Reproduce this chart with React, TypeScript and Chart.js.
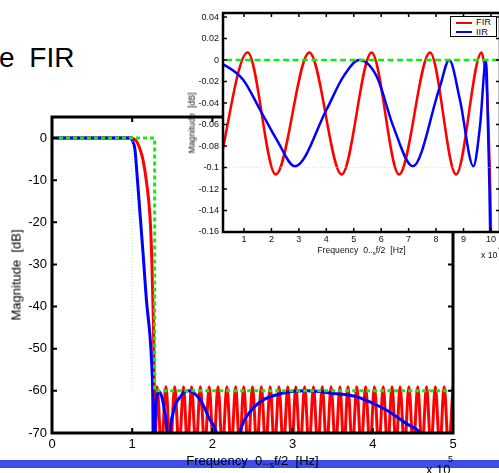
import React, { useEffect, useRef } from "react";
import { Chart, registerables } from "chart.js";

Chart.register(...registerables);

const FONT = "'Liberation Sans', Arial, Helvetica, sans-serif";

// ================= MAIN CHART (x: frequency ×10^5 Hz, y: magnitude dB)
const mainXTickValues = [0, 1, 2, 3, 4, 5];
const mainXTickLabels = ["0", "1", "2", "3", "4", "5"];
const mainYTickValues = [0, -10, -20, -30, -40, -50, -60, -70];
const mainYTickLabels = ["0", "-10", "-20", "-30", "-40", "-50", "-60", "-70"];

// FIR passband + transition band
const firTransX = [0, 1.0, 1.01, 1.056, 1.1, 1.135, 1.18, 1.222, 1.243, 1.263, 1.272, 1.284];
const firTransDb = [0, 0, -0.1, -0.8, -2.8, -5.2, -10.7, -18.7, -28, -42.4, -53.5, -74];
// FIR stopband equiripple: lobe peaks and nulls
const firPeakX = [1.31, 1.42, 1.53, 1.64, 1.74, 1.85, 1.96, 2.07, 2.18, 2.29, 2.39, 2.5, 2.61, 2.72, 2.83, 2.94, 3.04, 3.15, 3.26, 3.37, 3.48, 3.59, 3.69, 3.8, 3.91, 4.02, 4.13, 4.24, 4.34, 4.45, 4.56, 4.67, 4.78, 4.89, 5.0];
const firPeakDb = [-59, -59, -59, -59, -59, -59, -59, -59, -59, -59, -59, -59, -59, -59, -59, -59, -59, -59, -59, -59, -59, -59, -59, -59, -59, -59, -59, -59, -59, -59, -59, -59, -59, -59, -59];
const firNullX = [1.365, 1.475, 1.585, 1.69, 1.795, 1.905, 2.015, 2.125, 2.235, 2.34, 2.445, 2.555, 2.665, 2.775, 2.885, 2.99, 3.095, 3.205, 3.315, 3.425, 3.535, 3.64, 3.745, 3.855, 3.965, 4.075, 4.185, 4.29, 4.395, 4.505, 4.615, 4.725, 4.835, 4.945];
const firNullDb = [-74, -74, -74, -74, -74, -74, -74, -74, -74, -74, -74, -74, -74, -74, -74, -74, -74, -74, -74, -74, -74, -74, -74, -74, -74, -74, -74, -74, -74, -74, -74, -74, -74, -74];

// IIR (elliptic) full response
const iirMainX = [0, 0.99, 1.0, 1.035, 1.056, 1.097, 1.138, 1.18, 1.222, 1.243, 1.256, 1.268, 1.29, 1.31, 1.338, 1.37, 1.4, 1.43, 1.455, 1.47, 1.51, 1.6, 1.7, 1.85, 1.97, 2.05, 2.2, 2.344, 2.469, 2.594, 2.718, 2.968, 3.176, 3.51, 3.8, 4.006, 4.21, 4.42, 4.59, 4.8, 5.0];
const iirMainDb = [0, 0, -0.5, -2.8, -7.6, -17.8, -28, -39, -47, -53.5, -61, -85, -65, -61.2, -60.2, -61.5, -64.5, -69, -85, -72, -65.3, -61.4, -60, -62.2, -66.9, -70, -90, -70, -65, -62.6, -61.4, -60.2, -60, -60.6, -61.4, -63, -65, -67.8, -70, -78, -95];

// Specification template
const specX = [0, 1.28, 1.28, 5];
const specDb = [0, 0, -60, -60];
const passEdgeX = [1, 1];
const passEdgeDb = [0, -60];

// ================= INSET (x: frequency ×10^4 Hz, y: magnitude dB)
const insetXTickValues = [1, 2, 3, 4, 5, 6, 7, 8, 9, 10];
const insetXTickLabels = ["1", "2", "3", "4", "5", "6", "7", "8", "9", "10"];
const insetYTickValues = [0.04, 0.02, 0, -0.02, -0.04, -0.06, -0.08, -0.1, -0.12, -0.14, -0.16];
const insetYTickLabels = ["0.04", "0.02", "0", "-0.02", "-0.04", "-0.06", "-0.08", "-0.1", "-0.12", "-0.14", "-0.16"];

const firInsetX = [0.03, 1.135, 2.155, 3.38, 4.56, 5.65, 6.65, 7.78, 8.73, 9.66, 9.75, 9.84, 9.93, 10.0, 10.08];
const firInsetDb = [-0.107, 0.0071, -0.1065, 0.0071, -0.1065, 0.0071, -0.1065, 0.0071, -0.1065, 0.0071, -0.003, -0.022, -0.08, -0.16, -0.4];

const iirInsetX = [0, 0.975, 1.58, 2.19, 2.86, 4.01, 4.62, 5.2, 5.84, 6.44, 7.15, 8.14, 8.48, 8.87, 9.36, 9.6, 9.82, 9.9, 9.97, 10.05];
const iirInsetDb = [0, -0.0185, -0.046, -0.074, -0.0988, -0.046, -0.0154, 0, -0.0154, -0.0617, -0.0988, -0.0247, 0, -0.037, -0.0988, -0.0617, 0, -0.07, -0.16, -0.4];

const insetSpecX = [0, 12.8];
const insetSpecDb = [0, 0];
const insetRippleX = [0, 10];
const insetRippleDb = [-0.1, -0.1];

const RED = "#ff0000";
const BLUE = "#0000ff";
const GREEN = "#10ee10";
const PALE_GREEN = "#a8eea8";

const pts = (xs: number[], ys: number[]) => xs.map((x, i) => ({ x, y: ys[i] }));

function buildFirMain() {
  const out = pts(firTransX, firTransDb);
  for (let i = 0; i < firPeakX.length; i++) {
    out.push({ x: firPeakX[i], y: firPeakDb[i] });
    if (i < firNullX.length) out.push({ x: firNullX[i], y: firNullDb[i] });
  }
  return out;
}

const makeFrame = (lw: number, tickLen: number, tickW: number, fillWhite: boolean) => ({
  id: "frame",
  beforeDraw(chart: any) {
    if (!fillWhite) return;
    const { ctx, chartArea: a } = chart;
    ctx.save();
    ctx.fillStyle = "#fff";
    ctx.fillRect(a.left, a.top, a.right - a.left, a.bottom - a.top);
    ctx.restore();
  },
  afterDatasetsDraw(chart: any) {
    const { ctx, chartArea: a, scales } = chart;
    ctx.save();
    ctx.strokeStyle = "#000";
    ctx.lineWidth = tickW;
    ctx.beginPath();
    scales.x.ticks.forEach((t: any) => {
      const x = scales.x.getPixelForValue(t.value);
      ctx.moveTo(x, a.bottom);
      ctx.lineTo(x, a.bottom - tickLen);
      ctx.moveTo(x, a.top);
      ctx.lineTo(x, a.top + tickLen);
    });
    scales.y.ticks.forEach((t: any) => {
      const y = scales.y.getPixelForValue(t.value);
      ctx.moveTo(a.left, y);
      ctx.lineTo(a.left + tickLen, y);
      ctx.moveTo(a.right, y);
      ctx.lineTo(a.right - tickLen, y);
    });
    ctx.stroke();
    ctx.lineWidth = lw;
    ctx.strokeRect(a.left, a.top, a.right - a.left, a.bottom - a.top);
    ctx.restore();
  },
});

const lineDs = (label: string, data: any[], color: string, width: number, order: number, extra: any = {}) => ({
  label,
  data,
  borderColor: color,
  backgroundColor: color,
  borderWidth: width,
  pointRadius: 0,
  fill: false,
  order,
  borderJoinStyle: "round",
  ...extra,
});

export default function App() {
  const mainRef = useRef<HTMLCanvasElement | null>(null);
  const insetRef = useRef<HTMLCanvasElement | null>(null);

  useEffect(() => {
    const main = new Chart(mainRef.current as HTMLCanvasElement, {
      type: "line",
      data: {
        datasets: [
          lineDs("spec", pts(specX, specDb), GREEN, 3, 0, { borderDash: [4, 3] }),
          lineDs("edge", pts(passEdgeX, passEdgeDb), PALE_GREEN, 1, 1, { borderDash: [1, 2] }),
          lineDs("IIR", pts(iirMainX, iirMainDb), BLUE, 3, 2, { cubicInterpolationMode: "monotone" }),
          lineDs("FIR", buildFirMain(), RED, 3, 3, { cubicInterpolationMode: "monotone" }),
        ] as any,
      },
      options: {
        animation: false,
        responsive: false,
        events: [],
        layout: { padding: { top: 117, right: 46, left: 0, bottom: 0 } },
        plugins: { legend: { display: false }, tooltip: { enabled: false } },
        scales: {
          x: {
            type: "linear",
            min: 0,
            max: 5,
            afterFit: (s: any) => { s.height = 40; },
            afterBuildTicks: (s: any) => { s.ticks = mainXTickValues.map((v) => ({ value: v })); },
            ticks: {
              callback: (_v: any, i: number) => mainXTickLabels[i],
              font: { family: FONT, size: 13 },
              color: "#000",
              padding: 4,
              autoSkip: false,
              maxRotation: 0,
            },
            grid: { display: false, drawTicks: false },
            border: { display: false },
          },
          y: {
            type: "linear",
            min: -70,
            max: 5,
            afterFit: (s: any) => { s.width = 52; },
            afterBuildTicks: (s: any) => { s.ticks = mainYTickValues.map((v) => ({ value: v })); },
            ticks: {
              callback: (_v: any, i: number) => mainYTickLabels[i],
              font: { family: FONT, size: 13 },
              color: "#000",
              padding: 5,
              autoSkip: false,
            },
            grid: { display: false, drawTicks: false },
            border: { display: false },
          },
        },
      } as any,
      plugins: [makeFrame(3, 5, 2, false)],
    });

    const inset = new Chart(insetRef.current as HTMLCanvasElement, {
      type: "line",
      data: {
        datasets: [
          lineDs("spec", pts(insetSpecX, insetSpecDb), GREEN, 2.5, 0, { borderDash: [6, 3.5] }),
          lineDs("ripple", pts(insetRippleX, insetRippleDb), PALE_GREEN, 1, 1, { borderDash: [1, 3] }),
          lineDs("IIR", pts(iirInsetX, iirInsetDb), BLUE, 2.5, 2, { cubicInterpolationMode: "monotone" }),
          lineDs("FIR", pts(firInsetX, firInsetDb), RED, 2.5, 3, { cubicInterpolationMode: "monotone" }),
        ] as any,
      },
      options: {
        animation: false,
        responsive: false,
        events: [],
        layout: { padding: { top: 13, right: 10, left: 0, bottom: 0 } },
        plugins: { legend: { display: false }, tooltip: { enabled: false } },
        scales: {
          x: {
            type: "linear",
            min: 0.235,
            max: 10.33,
            afterFit: (s: any) => { s.height = 38; },
            afterBuildTicks: (s: any) => { s.ticks = insetXTickValues.map((v) => ({ value: v })); },
            ticks: {
              callback: (_v: any, i: number) => insetXTickLabels[i],
              font: { family: FONT, size: 9 },
              color: "#111",
              padding: 2,
              autoSkip: false,
              maxRotation: 0,
            },
            grid: { display: false, drawTicks: false },
            border: { display: false },
          },
          y: {
            type: "linear",
            min: -0.16,
            max: 0.0438,
            afterFit: (s: any) => { s.width = 53; },
            afterBuildTicks: (s: any) => { s.ticks = insetYTickValues.map((v) => ({ value: v })); },
            ticks: {
              callback: (_v: any, i: number) => insetYTickLabels[i],
              font: { family: FONT, size: 9 },
              color: "#111",
              padding: 4,
              autoSkip: false,
            },
            grid: { display: false, drawTicks: false },
            border: { display: false },
          },
        },
      } as any,
      plugins: [makeFrame(2.5, 4, 1.5, true)],
    });

    return () => {
      main.destroy();
      inset.destroy();
    };
  }, []);

  const t: React.CSSProperties = {
    position: "absolute",
    whiteSpace: "nowrap",
    fontFamily: FONT,
    color: "#000",
  };

  return (
    <div
      style={{
        position: "fixed",
        left: 0,
        top: 0,
        width: 499,
        height: 473,
        overflow: "hidden",
        background: "#fff",
        fontFamily: FONT,
      }}
    >
      {/* slide title fragment */}
      <div style={{ ...t, left: -1, top: 44.4, fontSize: 28, lineHeight: "28px", wordSpacing: 7 }}>e FIR</div>

      {/* bottom slide bar */}
      <div style={{ position: "absolute", left: 0, top: 460, width: 499, height: 8, background: "#3d4ee8" }} />

      <canvas ref={mainRef} width={499} height={473} style={{ position: "absolute", left: 0, top: 0, width: 499, height: 473, display: "block" }} />
      <canvas ref={insetRef} width={340} height={270} style={{ position: "absolute", left: 170, top: 0, width: 340, height: 270, display: "block" }} />

      {/* main axis titles */}
      <div style={{ ...t, left: 15.5, top: 275, fontSize: 13, lineHeight: "13px", transform: "translate(-50%, -50%) rotate(-90deg)" }}>
        Magnitude{"\u00a0\u00a0"}[dB]
      </div>
      <div style={{ ...t, left: 52, width: 401, top: 453.5, fontSize: 13, lineHeight: "13px", height: 13, textAlign: "center" }}>
        Frequency{"\u00a0\u00a0"}0..<sub style={{ fontSize: 9, verticalAlign: "-3px", lineHeight: 0 }}>s</sub>f/2{"\u00a0\u00a0"}[Hz]
      </div>
      <div style={{ ...t, left: 426, top: 463.3, fontSize: 13, lineHeight: "13px" }}>x 10</div>
      <div style={{ ...t, left: 448, top: 455, fontSize: 9, lineHeight: "9px" }}>5</div>

      {/* inset axis titles */}
      <div style={{ ...t, left: 191.5, top: 122.5, fontSize: 8.7, lineHeight: "8.7px", color: "#111", transform: "translate(-50%, -50%) rotate(-90deg)" }}>
        Magnitude{"\u00a0\u00a0"}[dB]
      </div>
      <div style={{ ...t, left: 223, width: 277, top: 245.5, fontSize: 8.7, lineHeight: "8.7px", height: 9, textAlign: "center", color: "#111" }}>
        Frequency{"\u00a0\u00a0"}0..<sub style={{ fontSize: 6, verticalAlign: "-2px", lineHeight: 0 }}>s</sub>f/2{"\u00a0\u00a0"}[Hz]
      </div>
      <div style={{ ...t, left: 481, top: 250.5, fontSize: 8.7, lineHeight: "8.7px", color: "#111" }}>x 10</div>
      <div style={{ ...t, left: 498, top: 245, fontSize: 6, lineHeight: "6px", color: "#111" }}>4</div>

      {/* inset legend */}
      <div
        style={{
          position: "absolute",
          left: 450,
          top: 16,
          width: 47,
          height: 21,
          border: "1px solid #000",
          boxSizing: "border-box",
          background: "#fff",
        }}
      >
        <div style={{ position: "absolute", left: 5, top: 4.5, width: 15.7, height: 2.4, background: RED }} />
        <div style={{ ...t, left: 25, top: 1.2, fontSize: 9.3, lineHeight: "9.3px", color: "#111" }}>FIR</div>
        <div style={{ position: "absolute", left: 5, top: 14.1, width: 15.7, height: 2.4, background: BLUE }} />
        <div style={{ ...t, left: 25, top: 10.8, fontSize: 9.3, lineHeight: "9.3px", color: "#111" }}>IIR</div>
      </div>
    </div>
  );
}
